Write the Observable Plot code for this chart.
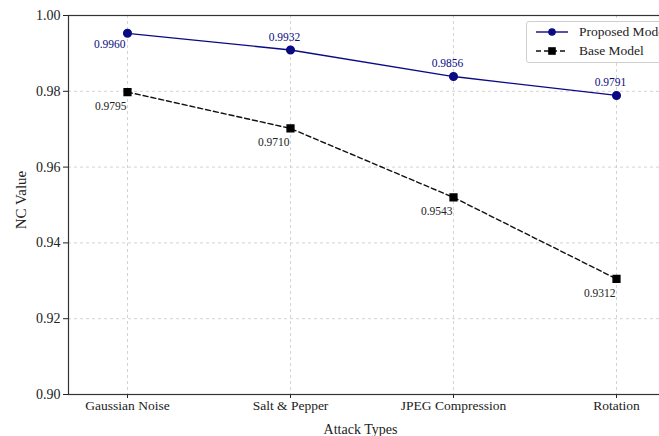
<!DOCTYPE html>
<html>
<head>
<meta charset="utf-8">
<script src="https://cdn.jsdelivr.net/npm/d3@7"></script>
<script src="https://cdn.jsdelivr.net/npm/@observablehq/plot@0.6"></script>
<style>
  html, body { margin: 0; padding: 0; background: #fff; overflow: hidden; }
  #wrap { position: relative; width: 659px; height: 436px; overflow: hidden; font-family: "Liberation Serif", "DejaVu Serif", serif; }
  #wrap > svg { max-width: none !important; display: block; }
  #wrap > svg text { font-family: "Liberation Serif", "DejaVu Serif", serif !important; }
  #legend { position: absolute; left: 526px; top: 21px; width: 150px; height: 40px; border: 1px solid #cfcfcf; border-radius: 3px; background: rgba(255,255,255,0.9); }
  #legend .row { position: absolute; left: 0; height: 18px; display: flex; align-items: center; }
  #legend svg { margin-left: 9px; }
  #legend span { margin-left: 11px; font-size: 13.5px; color: #222; white-space: nowrap; font-family: "Liberation Serif", serif; }
</style>
</head>
<body>
<div id="wrap"></div>
<script>
const categories = ["Gaussian Noise", "Salt & Pepper", "JPEG Compression", "Rotation"];
const proposedValues = [0.9953, 0.9909, 0.9839, 0.9789];
const baseValues = [0.9798, 0.9702, 0.9520, 0.9305];
const proposedLabels = ["0.9960", "0.9932", "0.9856", "0.9791"];
const baseLabels = ["0.9795", "0.9710", "0.9543", "0.9312"];
const yTicks = [0.90, 0.92, 0.94, 0.96, 0.98, 1.00];
const seriesNames = ["Proposed Model", "Base Model"];

const serif = '"Liberation Serif", "DejaVu Serif", serif';
const navy = "#0a0a82";
const proposed = categories.map((c, i) => ({attack: c, value: proposedValues[i], label: proposedLabels[i], idx: i}));
const base = categories.map((c, i) => ({attack: c, value: baseValues[i], label: baseLabels[i], idx: i}));
const gridStyle = {stroke: "#c8c8c8", strokeOpacity: 1, strokeWidth: 0.8, strokeDasharray: "3,3"};

const chart = Plot.plot({
  width: 680,
  height: 436,
  marginLeft: 68,
  marginRight: 6,
  marginTop: 15,
  marginBottom: 42,
  style: {fontFamily: serif, background: "white", color: "#222", maxWidth: "none"},
  x: {type: "point", domain: categories, padding: 0.35},
  y: {domain: [0.90, 1.00]},
  marks: [
    Plot.gridX(categories, gridStyle),
    Plot.gridY(yTicks, gridStyle),
    Plot.axisY(yTicks, {tickFormat: d3.format(".2f"), fontSize: 14, fontFamily: serif, tickSize: 5, tickPadding: 3, label: null}),
    Plot.text(["NC Value"], {frameAnchor: "left", dx: -47, dy: -5, rotate: -90, textAnchor: "middle", lineAnchor: "middle", fontSize: 15, fontFamily: serif, fill: "#222"}),
    Plot.axisX(categories, {fontSize: 13.5, fontFamily: serif, tickSize: 4, tickPadding: 2, label: null}),
    Plot.frame({stroke: "#333", strokeWidth: 1.2}),
    Plot.text(["Attack Types"], {frameAnchor: "bottom", lineAnchor: "middle", textAnchor: "middle", dy: 35, dx: -11, fontSize: 14, fontFamily: serif, fill: "#222"}),
    Plot.line(proposed, {x: "attack", y: "value", stroke: navy, strokeWidth: 1.3}),
    Plot.dot(proposed, {x: "attack", y: "value", r: 3.8, fill: navy, stroke: navy}),
    Plot.line(base, {x: "attack", y: "value", stroke: "#111", strokeWidth: 1.4, strokeDasharray: "5,3"}),
    Plot.dot(base, {x: "attack", y: "value", symbol: "square", r: 3.8, fill: "#000", stroke: "#000"}),
    Plot.text(proposed.filter(d => d.idx === 0), {x: "attack", y: "value", text: "label", textAnchor: "end", dx: -2, dy: 11, fontSize: 11.5, fontFamily: serif, fill: navy}),
    Plot.text(proposed.filter(d => d.idx > 0), {x: "attack", y: "value", text: "label", textAnchor: "middle", dx: -6, dy: -13, fontSize: 11.5, fontFamily: serif, fill: navy}),
    Plot.text(base, {x: "attack", y: "value", text: "label", textAnchor: "end", dx: -1, dy: 14, fontSize: 11.5, fontFamily: serif, fill: "#222"})
  ]
});

const wrap = document.getElementById("wrap");
wrap.appendChild(chart);

const legend = document.createElement("div");
legend.id = "legend";
legend.innerHTML = `
  <div class="row" style="top:1px">
    <svg width="32" height="12"><line x1="0" y1="6" x2="32" y2="6" stroke="${navy}" stroke-width="1.4"/><circle cx="16" cy="6" r="3.8" fill="${navy}"/></svg>
    <span>${seriesNames[0]}</span>
  </div>
  <div class="row" style="top:20px">
    <svg width="32" height="12"><line x1="0" y1="6" x2="32" y2="6" stroke="#111" stroke-width="1.5" stroke-dasharray="5,3"/><rect x="12.2" y="2.2" width="7.6" height="7.6" fill="#000"/></svg>
    <span>${seriesNames[1]}</span>
  </div>`;
wrap.appendChild(legend);
</script>
</body>
</html>
